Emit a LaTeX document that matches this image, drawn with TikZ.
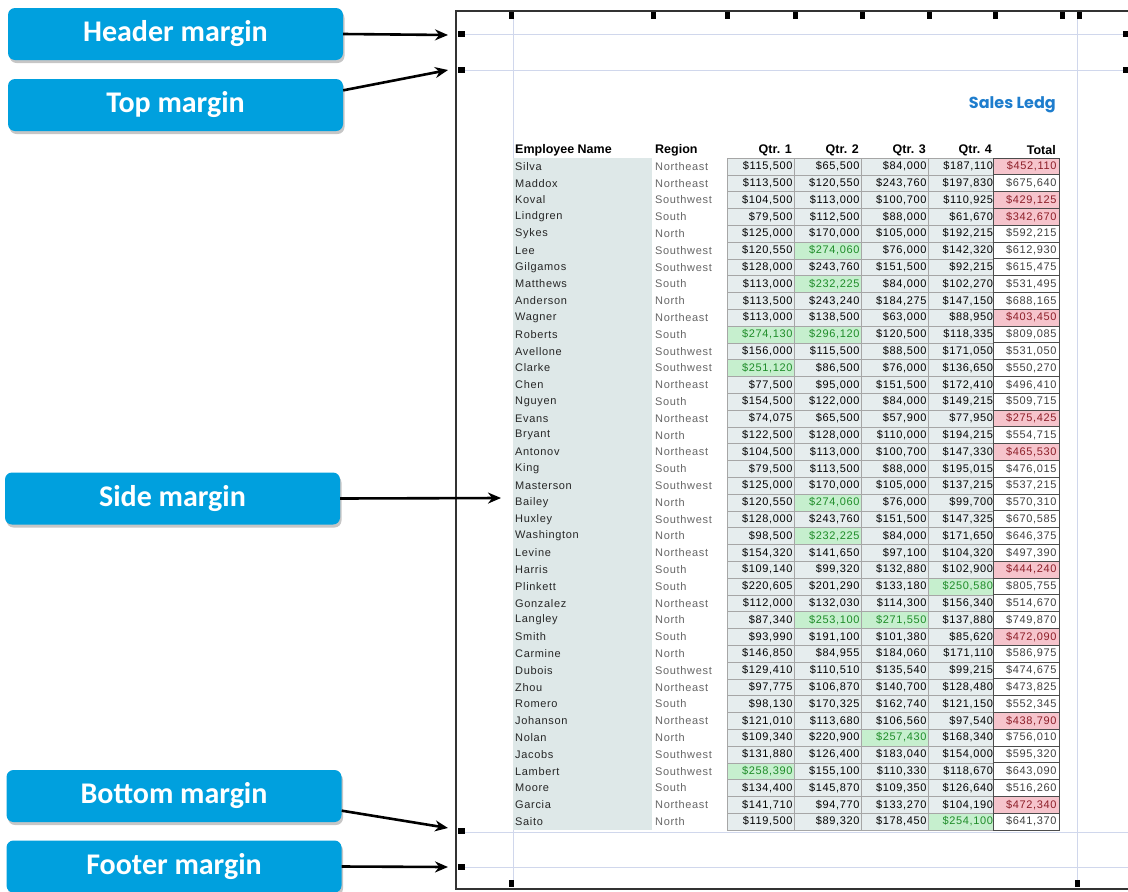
\documentclass[tikz,border=0pt]{standalone}
\usepackage{fontspec}
\setmainfont{Liberation Sans}
\newfontfamily\sheetfont[LetterSpace=6]{Liberation Sans}
\newfontfamily\calloutfont{Carlito}
\newfontfamily\titlefont{Poppins}
\usepackage{xcolor}
\usepackage{tikz}
\usetikzlibrary{arrows.meta, shadows, positioning, calc}
\definecolor{calloutblue}{RGB}{0, 160, 222}
\definecolor{guideblue}{RGB}{208, 215, 236}
\definecolor{namegray}{RGB}{222, 232, 232}
\definecolor{cellgray}{RGB}{230, 237, 238}
\definecolor{hitgreen}{RGB}{198, 239, 206}
\definecolor{hittext}{RGB}{30, 140, 40}
\definecolor{lowpink}{RGB}{246, 196, 204}
\definecolor{lowtext}{RGB}{140, 30, 40}
\definecolor{titleblue}{RGB}{30, 125, 205}
\pgfkeys{/pgf/number format/.cd, fixed, precision=0, 1000 sep={,}, assume math mode=true}

\begin{document}
\begin{tikzpicture}[
    x=1pt, y=-1pt,
    callout/.style={rectangle, rounded corners=7pt, minimum width=335pt, minimum height=52pt, fill=calloutblue, text=white, font=\calloutfont\bfseries\fontsize{30}{32}\selectfont, drop shadow={opacity=0.45, shadow xshift=1.5pt, shadow yshift=-3pt}},
    pointer/.style={line width=2.6pt, -{Stealth[length=13pt, width=11pt]}},
    marker/.style={rectangle, fill=black, minimum width=5pt, minimum height=7pt, inner sep=0pt},
    guide/.style={guideblue, line width=1pt},
    namecell/.style={anchor=west, inner sep=0pt, text=black!85, font=\sheetfont\fontsize{11}{12}\selectfont},
    regioncell/.style={anchor=west, inner sep=0pt, text=black!60, font=\sheetfont\fontsize{11}{12}\selectfont},
    qcell/.style={rectangle, draw=gray!70, fill=cellgray, minimum width=67pt, minimum height=16.8pt, inner sep=0pt, text width=63pt, align=right, font=\sheetfont\fontsize{11}{12}\selectfont},
    totcell/.style={qcell, fill=white, draw=gray!60!black, line width=0.9pt, minimum width=66pt, text width=61pt, text=black!75},
    headcell/.style={inner sep=0pt, font=\bfseries\fontsize{12.5}{14}\selectfont},
    hit/.style={fill=hitgreen, text=hittext},
    low/.style={fill=lowpink, text=lowtext},
    % green quarters
    hl 6-2/.style=hit, hl 8-2/.style=hit, hl 11-1/.style=hit, hl 11-2/.style=hit,
    hl 13-1/.style=hit, hl 21-2/.style=hit, hl 23-2/.style=hit, hl 26-4/.style=hit,
    hl 28-2/.style=hit, hl 28-3/.style=hit, hl 35-3/.style=hit, hl 37-1/.style=hit,
    hl 40-4/.style=hit,
    % pink totals
    hl 1-5/.style=low, hl 3-5/.style=low, hl 4-5/.style=low, hl 10-5/.style=low,
    hl 16-5/.style=low, hl 18-5/.style=low, hl 25-5/.style=low, hl 29-5/.style=low,
    hl 34-5/.style=low, hl 39-5/.style=low
]
    \useasboundingbox (0,0) rectangle (1128,892);
    \clip (0,0) rectangle (1128,892);

    % Page and margin guides
    \draw[gray!40!black, line width=1.6pt] (1140,11) -- (456,11) -- (456,889) -- (1140,889);
    \draw[guide] (462,34) -- (1128,34);
    \draw[guide] (462,70) -- (1128,70);
    \draw[guide] (462,832) -- (1128,832);
    \draw[guide] (462,867) -- (1128,867);
    \draw[guide] (513,19) -- (513,883);
    \draw[guide] (1077,19) -- (1077,883);

    % Handles
    \foreach \hx [count=\k] in {511, 653, 727, 795, 862, 929, 995, 1062, 1079}
        \node[marker] (tick-\k) at (\hx,15) {};
    \node[marker, minimum width=7pt, minimum height=6pt] (hdrmark) at (461,34) {};
    \node[marker, minimum width=7pt, minimum height=6pt] (topmark) at (461,70) {};
    \node[marker, minimum width=7pt, minimum height=6pt] (botmark) at (461,831) {};
    \node[marker, minimum width=7pt, minimum height=6pt] (ftrmark) at (461,867) {};
    \node[marker, minimum width=7pt, minimum height=6pt] (hdrmark-r) at (1126,34) {};
    \node[marker, minimum width=7pt, minimum height=6pt] (topmark-r) at (1126,70) {};
    \node[marker] (foot-1) at (511,883) {};
    \node[marker] (foot-2) at (1077,883) {};

    % Sheet title and column heads
    \node[anchor=east, inner sep=0pt, text=titleblue, font=\titlefont\bfseries\fontsize{16}{18}\selectfont] (title) at (1056,105) {Sales Ledg};
    \fill[namegray] (513,158) rectangle (652,830);
    \node[headcell, anchor=west] (h-name) at (515,150) {Employee Name};
    \node[headcell, anchor=west] (h-region) at (655,150) {Region};
    \node[headcell, anchor=east] (h-q1) at (792,150) {Qtr. 1};
    \node[headcell, anchor=east] (h-q2) at (859,150) {Qtr. 2};
    \node[headcell, anchor=east] (h-q3) at (926,150) {Qtr. 3};
    \node[headcell, anchor=east] (h-q4) at (992,150) {Qtr. 4};
    \node[headcell, anchor=east] (h-tot) at (1056,150) {Total};

    % Ledger rows
    \foreach \nm/\rg/\qa/\qb/\qc/\qd/\tot [count=\i] in {
        Silva/Northeast/115500/65500/84000/187110/452110,
        Maddox/Northeast/113500/120550/243760/197830/675640,
        Koval/Southwest/104500/113000/100700/110925/429125,
        Lindgren/South/79500/112500/88000/61670/342670,
        Sykes/North/125000/170000/105000/192215/592215,
        Lee/Southwest/120550/274060/76000/142320/612930,
        Gilgamos/Southwest/128000/243760/151500/92215/615475,
        Matthews/South/113000/232225/84000/102270/531495,
        Anderson/North/113500/243240/184275/147150/688165,
        Wagner/Northeast/113000/138500/63000/88950/403450,
        Roberts/South/274130/296120/120500/118335/809085,
        Avellone/Southwest/156000/115500/88500/171050/531050,
        Clarke/Southwest/251120/86500/76000/136650/550270,
        Chen/Northeast/77500/95000/151500/172410/496410,
        Nguyen/South/154500/122000/84000/149215/509715,
        Evans/Northeast/74075/65500/57900/77950/275425,
        Bryant/North/122500/128000/110000/194215/554715,
        Antonov/Northeast/104500/113000/100700/147330/465530,
        King/South/79500/113500/88000/195015/476015,
        Masterson/Southwest/125000/170000/105000/137215/537215,
        Bailey/North/120550/274060/76000/99700/570310,
        Huxley/Southwest/128000/243760/151500/147325/670585,
        Washington/North/98500/232225/84000/171650/646375,
        Levine/Northeast/154320/141650/97100/104320/497390,
        Harris/South/109140/99320/132880/102900/444240,
        Plinkett/South/220605/201290/133180/250580/805755,
        Gonzalez/Northeast/112000/132030/114300/156340/514670,
        Langley/North/87340/253100/271550/137880/749870,
        Smith/South/93990/191100/101380/85620/472090,
        Carmine/North/146850/84955/184060/171110/586975,
        Dubois/Southwest/129410/110510/135540/99215/474675,
        Zhou/Northeast/97775/106870/140700/128480/473825,
        Romero/South/98130/170325/162740/121150/552345,
        Johanson/Northeast/121010/113680/106560/97540/438790,
        Nolan/North/109340/220900/257430/168340/756010,
        Jacobs/Southwest/131880/126400/183040/154000/595320,
        Lambert/Southwest/258390/155100/110330/118670/643090,
        Moore/South/134400/145870/109350/126640/516260,
        Garcia/Northeast/141710/94770/133270/104190/472340,
        Saito/North/119500/89320/178450/254100/641370} {
        \node[namecell] (name-\i) at (515, {158+(\i-0.5)*16.8}) {\nm};
        \node[regioncell] (region-\i) at (655, {158+(\i-0.5)*16.8}) {\rg};
        \node[qcell, hl \i-1/.try] (qa-\i) at (761, {158+(\i-0.5)*16.8}) {\$\pgfmathprintnumber{\qa}};
        \node[qcell, hl \i-2/.try] (qb-\i) at (828, {158+(\i-0.5)*16.8}) {\$\pgfmathprintnumber{\qb}};
        \node[qcell, hl \i-3/.try] (qc-\i) at (895, {158+(\i-0.5)*16.8}) {\$\pgfmathprintnumber{\qc}};
        \node[qcell, hl \i-4/.try] (qd-\i) at (961.5, {158+(\i-0.5)*16.8}) {\$\pgfmathprintnumber{\qd}};
        \node[totcell, hl \i-5/.try] (tot-\i) at (1026, {158+(\i-0.5)*16.8}) {\$\pgfmathprintnumber{\tot}};
    }

    % Callouts
    \node[callout] (hdr) at (175.5,34) {Header margin};
    \node[callout] (topm) at (175.5,105) {Top margin};
    \node[callout] (side) at (172.5,498.5) {Side margin};
    \node[callout] (botm) at (174,796) {Bottom margin};
    \node[callout] (ftr) at (174,866.5) {Footer margin};

    \coordinate (hdrpt) at (448,35);
    \coordinate (toppt) at (448,70);
    \coordinate (sidept) at (501,498);
    \coordinate (botpt) at (448,828);
    \coordinate (ftrpt) at (448,867);

    % Arrows
    \draw[pointer] (hdr.east) -- (hdrpt);
    \draw[pointer] (topm.5) -- (toppt);
    \draw[pointer] (side.east) -- (sidept);
    \draw[pointer] (botm.-5) -- (botpt);
    \draw[pointer] (ftr.east) -- (ftrpt);

\end{tikzpicture}
\end{document}
